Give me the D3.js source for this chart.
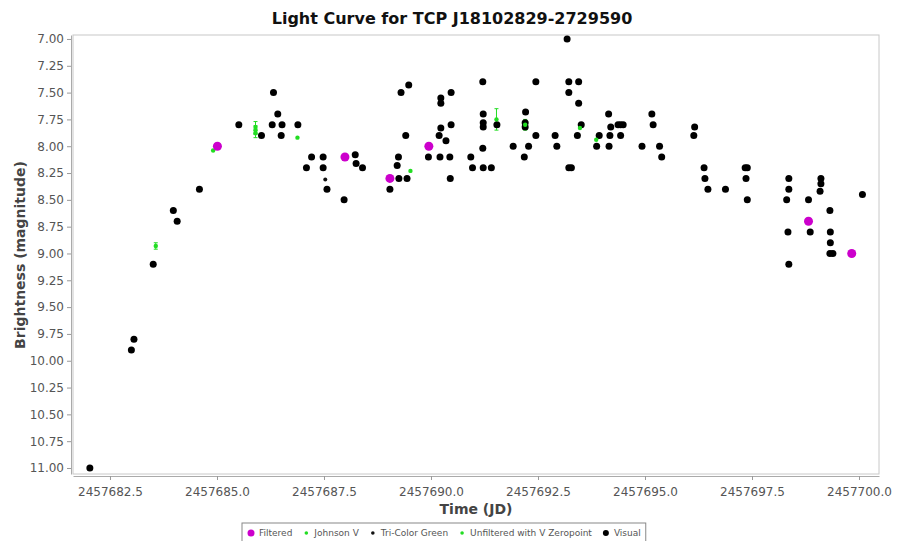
<!DOCTYPE html>
<html>
<head>
<meta charset="utf-8"/>
<title>Light Curve</title>
<script src="https://d3js.org/d3.v7.min.js"></script>
<style>
  body { margin: 0; background: #fff; }
  text { font-family: "DejaVu Sans", sans-serif; }
</style>
</head>
<body>
<div id="chart"></div>
<script>
// JD values are stored as offsets from 2457680
var JD0 = 2457680;

// Visual observations [jd offset, magnitude]
var visual = [
  [2.03, 11.00], [3.00, 9.90], [3.06, 9.80], [3.51, 9.10], [3.98, 8.60], [4.07, 8.70],
  [4.59, 8.40], [5.51, 7.80], [6.04, 7.90], [6.32, 7.50], [6.42, 7.70], [6.29, 7.80],
  [6.52, 7.80], [6.50, 7.90], [6.89, 7.80], [7.21, 8.10], [7.48, 8.10], [7.09, 8.20],
  [7.48, 8.20], [7.57, 8.40], [7.97, 8.50], [8.23, 8.08], [8.25, 8.16], [8.40, 8.20],
  [9.04, 8.40], [9.24, 8.10], [9.21, 8.18], [9.25, 8.30], [9.44, 8.30], [9.30, 7.50],
  [9.48, 7.43], [9.41, 7.90], [9.94, 8.10], [10.21, 8.10], [10.44, 8.10], [10.23, 7.55],
  [10.23, 7.60], [10.47, 7.50], [10.23, 7.83], [10.47, 7.80], [10.19, 7.90], [10.35, 7.95],
  [10.45, 8.30], [10.93, 8.10], [10.97, 8.20], [11.22, 8.20], [11.41, 8.20], [11.21, 7.40],
  [11.22, 7.70], [11.22, 7.78], [11.22, 7.82], [11.21, 8.02], [11.54, 7.80], [11.92, 8.00],
  [12.18, 8.10], [12.21, 7.68], [12.20, 7.78], [12.20, 7.82], [12.28, 8.00], [12.45, 7.40],
  [12.45, 7.90], [12.90, 7.90], [12.94, 8.00], [13.18, 7.00], [13.22, 7.40], [13.22, 7.50],
  [13.45, 7.40], [13.45, 7.60], [13.22, 8.20], [13.28, 8.20], [13.51, 7.80], [13.42, 7.90],
  [13.93, 7.90], [13.87, 8.00], [14.15, 7.70], [14.20, 7.82], [14.18, 7.90], [14.16, 8.00],
  [14.37, 7.80], [14.43, 7.80], [14.49, 7.80], [14.43, 7.90], [14.93, 8.00], [15.16, 7.70],
  [15.19, 7.80], [15.34, 8.00], [15.39, 8.10], [16.16, 7.82], [16.14, 7.90], [16.38, 8.20],
  [16.40, 8.30], [16.47, 8.40], [16.88, 8.40], [17.34, 8.20], [17.39, 8.20], [17.36, 8.30],
  [17.39, 8.50], [18.36, 8.30], [18.36, 8.40], [18.31, 8.50], [18.34, 8.80], [18.36, 9.10],
  [18.82, 8.50], [18.86, 8.80], [19.11, 8.30], [19.11, 8.35], [19.09, 8.42], [19.32, 8.60],
  [19.33, 8.80], [19.33, 8.90], [19.32, 9.00], [19.39, 9.00], [20.08, 8.45]
];

// Filtered observations
var filtered = [
  [5.01, 8.00], [7.99, 8.10], [9.04, 8.30], [9.95, 8.00], [18.82, 8.70], [19.83, 9.00]
];

// Tri-Color Green
var triColorGreen = [[7.53, 8.31]];

// Johnson V [jd offset, magnitude, error]
var johnsonV = [
  [3.57, 8.93, 0.03], [5.90, 7.82, 0.05], [5.90, 7.85, 0.04], [5.90, 7.88, 0.04],
  [11.53, 7.75, 0.10], [12.20, 7.80, 0.05]
];

// Unfiltered with V Zeropoint
var unfilteredV = [
  [4.91, 8.04], [6.88, 7.92], [9.52, 8.23], [13.48, 7.83], [13.86, 7.94]
];

var xTicks = [2457682.5, 2457685.0, 2457687.5, 2457690.0, 2457692.5, 2457695.0, 2457697.5, 2457700.0];
var yTicks = [7.00, 7.25, 7.50, 7.75, 8.00, 8.25, 8.50, 8.75, 9.00, 9.25, 9.50, 9.75, 10.00, 10.25, 10.50, 10.75, 11.00];

var legendItems = [
  {name: "Filtered", color: "#cc00cc", r: 3.5},
  {name: "Johnson V", color: "#22dd22", r: 1.8},
  {name: "Tri-Color Green", color: "#111", r: 1.8},
  {name: "Unfiltered with V Zeropoint", color: "#22dd22", r: 1.8},
  {name: "Visual", color: "#000", r: 3}
];

var W = 903, H = 541;
var margin = {top: 35, right: 24, bottom: 67, left: 73};
var width = W - margin.left - margin.right,
    height = H - margin.top - margin.bottom;

var svg = d3.select("#chart").append("svg")
    .attr("width", W).attr("height", H);

var g = svg.append("g")
    .attr("transform", "translate(" + margin.left + "," + margin.top + ")");

var x = d3.scaleLinear()
    .domain([2457681.636 - JD0, 2457700.467 - JD0])
    .range([0, width]);
var y = d3.scaleLinear()
    .domain([6.963, 11.056])
    .range([0, height]);

// plot border
g.append("rect")
    .attr("width", width).attr("height", height)
    .attr("fill", "#fff").attr("stroke", "#c8c8c8");

// y axis
var yAxis = g.append("g")
    .attr("transform", "translate(-2,0)")
    .call(d3.axisLeft(y).tickValues(yTicks).tickFormat(d3.format(".2f")).tickSize(4).tickSizeOuter(0));
// x axis
var xAxis = g.append("g")
    .attr("transform", "translate(0," + (height + 2) + ")")
    .call(d3.axisBottom(x).tickValues(xTicks.map(function(d) { return d - JD0; }))
        .tickFormat(function(d) { return (d + JD0).toFixed(1); }).tickSize(4).tickSizeOuter(0));

[yAxis, xAxis].forEach(function(a) {
  a.select(".domain").attr("stroke", "#aaa");
  a.selectAll(".tick line").attr("stroke", "#999");
  a.selectAll(".tick text").attr("fill", "#555").style("font-size", "12px")
      .style("font-family", "DejaVu Sans, sans-serif");
});
xAxis.selectAll(".tick text").attr("dy", "1.1em");

// error bars
var eb = g.append("g").attr("stroke", "#22dd22").attr("stroke-width", 1);
johnsonV.forEach(function(d) {
  var cx = x(d[0]);
  eb.append("line").attr("x1", cx).attr("x2", cx).attr("y1", y(d[1] - d[2])).attr("y2", y(d[1] + d[2]));
  eb.append("line").attr("x1", cx - 2).attr("x2", cx + 2).attr("y1", y(d[1] - d[2])).attr("y2", y(d[1] - d[2]));
  eb.append("line").attr("x1", cx - 2).attr("x2", cx + 2).attr("y1", y(d[1] + d[2])).attr("y2", y(d[1] + d[2]));
});

function drawSeries(data, color, r) {
  g.append("g").selectAll("circle")
    .data(data).enter().append("circle")
      .attr("cx", function(d) { return x(d[0]); })
      .attr("cy", function(d) { return y(d[1]); })
      .attr("r", r)
      .attr("fill", color);
}

drawSeries(visual, "#000", 3.5);
drawSeries(triColorGreen, "#111", 2);
drawSeries(unfilteredV, "#22dd22", 2.2);
drawSeries(johnsonV, "#22dd22", 2.2);
drawSeries(filtered, "#cc00cc", 4.5);

// title
svg.append("text")
    .attr("x", 452).attr("y", 24)
    .attr("text-anchor", "middle")
    .style("font-size", "16px").style("font-weight", "bold")
    .attr("fill", "#111")
    .text("Light Curve for TCP J18102829-2729590");

// axis labels
svg.append("text")
    .attr("x", 476).attr("y", 514)
    .attr("text-anchor", "middle")
    .style("font-size", "14px").style("font-weight", "bold")
    .attr("fill", "#444")
    .text("Time (JD)");

svg.append("text")
    .attr("transform", "translate(25," + 255 + ") rotate(-90)")
    .attr("text-anchor", "middle")
    .style("font-size", "14px").style("font-weight", "bold")
    .attr("fill", "#444")
    .text("Brightness (magnitude)");

// legend (box runs past the bottom edge, as in the original)
var lg = svg.append("g").attr("transform", "translate(242,523)");
var lgBox = lg.append("rect").attr("height", 24).attr("fill", "#fff").attr("stroke", "#888");
var lx = 9;
legendItems.forEach(function(it) {
  lg.append("circle").attr("cx", lx).attr("cy", 10).attr("r", it.r).attr("fill", it.color);
  var t = lg.append("text").attr("x", lx + 8).attr("y", 13.3)
      .style("font-size", "9px").attr("fill", "#555").text(it.name);
  lx += 8 + t.node().getComputedTextLength() + 14;
});
lgBox.attr("width", lx - 9);
</script>
</body>
</html>
